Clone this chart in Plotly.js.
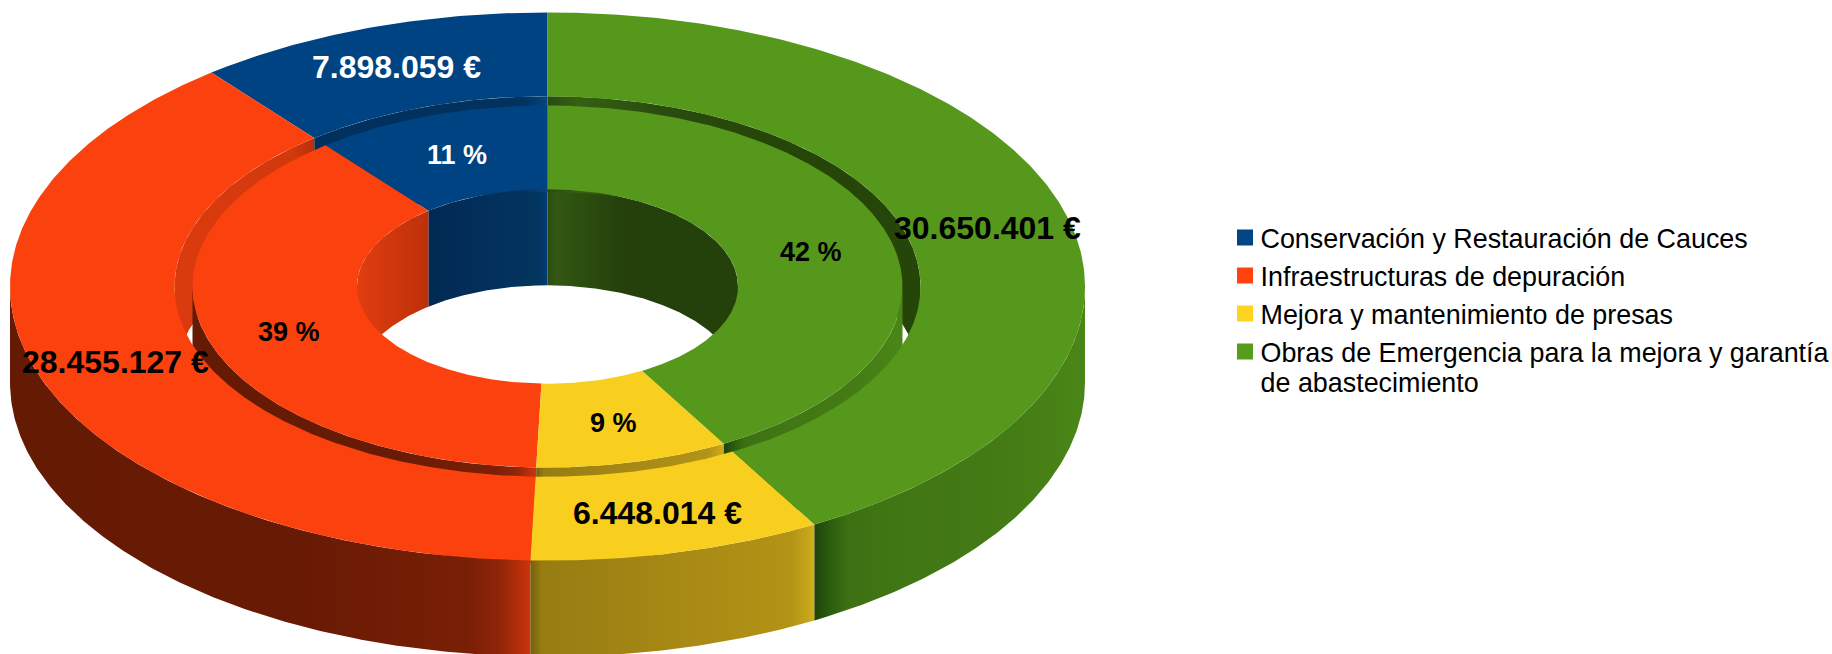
<!DOCTYPE html>
<html><head><meta charset="utf-8">
<script src="https://cdn.plot.ly/plotly-3.0.1.min.js"></script>
<style>html,body{margin:0;padding:0;background:#fff;overflow:hidden}#chart{width:1832px;height:654px}</style>
</head><body><div id="chart"></div>
<script>
// ---- data ----
const categories = [
  "Conservación y Restauración de Cauces",
  "Infraestructuras de depuración",
  "Mejora y mantenimiento de presas",
  "Obras de Emergencia para la mejora y garantía<br>de abastecimiento"
];
const values = [7898059, 28455127, 6448014, 30650401];
const legendColors = ["#004586", "#ff420e", "#ffd320", "#579d1c"];
const topColors = ["#004382", "#fb420e", "#f9cf1f", "#55981b"];
const labelColors = ["#ffffff", "#000000", "#000000", "#000000"];

// ---- tilted-ring geometry ----
const CX = 547.5, CY = 286.5, TILT = 0.51, DEPTH = 96;
const R_OUT = 537.5, R_GAP_OUT = 373, R_GAP_IN = 355, R_HOLE = 190.5;

// horizontal shading of the walls, one per slice
const outerWallStops = [
  [[0,"#651a04"],[1,"#651a04"]],
  [[0,"#651a04"],[0.55,"#681a04"],[0.88,"#7a1f06"],[0.94,"#8f2508"],[1,"#cc340c"]],
  [[0,"#75600c"],[0.04,"#977c12"],[0.5,"#a68815"],[0.92,"#b39416"],[0.97,"#c4a21a"],[1,"#d0ae1c"]],
  [[0,"#1f4209"],[0.05,"#2a5a0d"],[0.12,"#3c7013"],[0.3,"#417614"],[0.7,"#447b15"],[1,"#4a8617"]]
];
const farWallStopsGap = [
  [[0,"#02305e"],[0.9,"#03325f"],[1,"#04457f"]],
  [[0,"#da3b0e"],[0.85,"#d2380d"],[1,"#b8300a"]],
  null,
  [[0,"#2a4c0f"],[0.08,"#346013"],[0.3,"#2a4c0f"],[0.6,"#264509"],[1,"#264509"]]
];
const farWallStopsHole = [
  [[0,"#012a52"],[0.5,"#032f5c"],[0.93,"#02365f"],[1,"#003d75"]],
  [[0,"#e03e0f"],[1,"#be300a"]],
  null,
  [[0,"#2a4d10"],[0.05,"#345813"],[0.12,"#2e5210"],[0.4,"#25400b"],[1,"#24400b"]]
];

const total = values.reduce((a, b) => a + b, 0);
const starts = [], ends = [];
values.reduce((acc, v, i) => { starts[i] = acc; ends[i] = acc + v / total * 360; return ends[i]; }, 0);

function arc(r, a0, a1, dy) {
  const xs = [], ys = [], n = Math.max(2, Math.ceil(Math.abs(a1 - a0) / 0.5));
  for (let k = 0; k <= n; k++) {
    const t = (a0 + (a1 - a0) * k / n) * Math.PI / 180;
    xs.push(CX - r * Math.sin(t));
    ys.push(CY - r * TILT * Math.cos(t) + dy);
  }
  return [xs, ys];
}
function poly(a, b) {
  return { x: a[0].concat(b[0].slice().reverse(), [a[0][0]]), y: a[1].concat(b[1].slice().reverse(), [a[1][0]]) };
}
function flat(p, color) {
  return { type:"scatter", mode:"lines", x:p.x, y:p.y, fill:"toself", fillcolor:color,
           line:{width:0}, hoverinfo:"skip", showlegend:false };
}
function shaded(p, stops) {
  return { type:"scatter", mode:"lines", x:p.x, y:p.y, fill:"toself",
           fillgradient:{type:"horizontal", colorscale:stops},
           line:{width:0}, hoverinfo:"skip", showlegend:false };
}
function overlap(i, lo, hi) { return [Math.max(starts[i], lo), Math.min(ends[i], hi)]; }

function farWalls(r, stops) {
  const out = [];
  values.forEach((v, i) => {
    [[0, 90], [270, 360]].forEach(([lo, hi]) => {
      const [a, b] = overlap(i, lo, hi);
      if (b > a && stops[i]) out.push(shaded(poly(arc(r, a, b, 0), arc(r, a, b, DEPTH)), stops[i]));
    });
  });
  return out;
}
function nearWalls(r, stops) {
  const out = [];
  values.forEach((v, i) => {
    const [a, b] = overlap(i, 90, 270);
    if (b > a) out.push(shaded(poly(arc(r, a, b, 0), arc(r, a, b, DEPTH)), stops[i]));
  });
  return out;
}
function faces(r1, r2) {
  return values.map((v, i) => flat(poly(arc(r1, starts[i], ends[i], 0), arc(r2, starts[i], ends[i], 0)), topColors[i]));
}

const traces = [].concat(
  farWalls(R_HOLE, farWallStopsHole),
  farWalls(R_GAP_OUT, farWallStopsGap),
  nearWalls(R_GAP_IN, outerWallStops),
  faces(R_GAP_IN, R_HOLE),
  nearWalls(R_OUT, outerWallStops),
  faces(R_OUT, R_GAP_OUT)
);
categories.forEach((c, i) => traces.push({
  type:"scatter", mode:"markers", x:[null], y:[null], name:c, legendgroup:"g"+i,
  marker:{symbol:"square", size:16, color:legendColors[i]}, hoverinfo:"skip", showlegend:true
}));

// ---- labels ----
const euroLabels = values.map(v => String(v).replace(/\B(?=(\d{3})+$)/g, ".") + " €");
const pctLabels = values.map(v => Math.round(v / total * 100) + " %");
const euroAnchors = [[396,67],[115,362],[657,513],[987,228]];
const pctAnchors = [[457,155],[288.5,332],[613,423],[811,252]];
const font = "Liberation Sans, Arial, sans-serif";
function note(t, p, size, col) {
  return {text:"<b>"+t+"</b>", x:p[0], y:p[1], xref:"x", yref:"y", showarrow:false,
          xanchor:"center", yanchor:"middle", font:{family:font, size:size, color:col}};
}
const annotations = [];
values.forEach((v, i) => {
  annotations.push(note(euroLabels[i], euroAnchors[i], 32, labelColors[i]));
  annotations.push(note(pctLabels[i], pctAnchors[i], 27, labelColors[i]));
});

const LEGEND_FONT = 26.9, LEGEND_LINE = 30, SYMBOL_SHIFT = 4.5;
const layout = {
  width:1832, height:654, margin:{l:0,r:0,t:0,b:0,autoexpand:false}, paper_bgcolor:"#fff", plot_bgcolor:"#fff",
  xaxis:{range:[0,1832], visible:false, fixedrange:true},
  yaxis:{range:[654,0], visible:false, fixedrange:true},
  hovermode:false, annotations,
  legend:{x:1220.5/1832, y:1-213.5/654, xanchor:"left", yanchor:"top", font:{family:font, size:LEGEND_FONT, color:"#000"},
          tracegroupgap:0, bgcolor:"rgba(0,0,0,0)", borderwidth:0, itemclick:false, itemdoubleclick:false}
};
Plotly.newPlot("chart", traces, layout, {displayModeBar:false, staticPlot:true}).then(gd => {
  // legend fine-tuning: swatch closer to its text, tighter wrapped line, swatch on the first line
  gd.querySelectorAll(".legend .traces").forEach(tr => {
    const lines = tr.querySelectorAll(".legendtext tspan.line");
    let up = 0;
    if (lines.length > 1) {
      up = LEGEND_FONT * 1.3 / 2;
      lines[1].setAttribute("dy", (LEGEND_LINE / LEGEND_FONT) + "em");
    }
    const sym = tr.querySelector(".legendsymbols");
    if (sym) sym.setAttribute("transform", "translate(" + SYMBOL_SHIFT + "," + (-up) + ")");
  });
});
</script></body></html>
